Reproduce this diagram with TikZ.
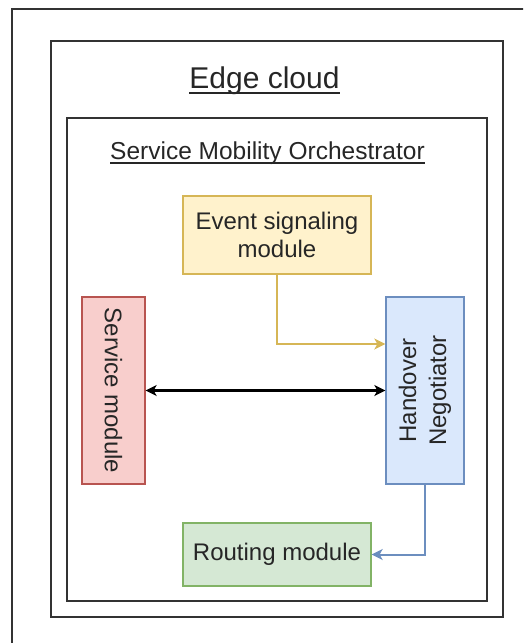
\documentclass[tikz,border=0pt]{standalone}
\usepackage{fontspec}
\setmainfont{Liberation Sans}
\usetikzlibrary{arrows.meta}

\definecolor{frameline}{HTML}{333333}
\definecolor{txt}{HTML}{262626}
\definecolor{yfill}{HTML}{FFF2CC}\definecolor{yline}{HTML}{D6B656}
\definecolor{rfill}{HTML}{F8CECC}\definecolor{rline}{HTML}{B85450}
\definecolor{bfill}{HTML}{DAE8FC}\definecolor{bline}{HTML}{6C8EBF}
\definecolor{gfill}{HTML}{D5E8D4}\definecolor{gline}{HTML}{82B366}

\tikzset{
  container/.style={draw=frameline, line width=1.8pt, inner sep=0pt},
  title/.style={text=txt, inner sep=0pt, anchor=base},
  module/.style={line width=1.3pt, inner sep=0pt, text=txt, align=center,
    font=\fontsize{24}{28}\selectfont},
  tip/.tip={Stealth[length=11pt,width=11pt,inset=3pt]},
  link/.style={line width=2pt, -tip},
}

\begin{document}
\begin{tikzpicture}[x=1pt,y=-1pt]
\useasboundingbox (0,0) rectangle (523,643);
\clip (0,0) rectangle (523,643);

% outer page frame, running off the right and bottom edges
\draw[frameline, line width=1.8pt] (12,680) -- (12,9) -- (560,9);

% nested containers
\node[container, minimum width=452pt, minimum height=576pt] (edge) at (277,329) {};
\node[container, minimum width=420pt, minimum height=483pt] (smo) at (277,359.5) {};

% underlined container titles
\node[title, font=\fontsize{30}{34}\selectfont] (edgetitle) at (264.5,88) {Edge cloud};
\draw[txt, line width=1.5pt] ([yshift=-5pt]edgetitle.base west) -- ([yshift=-5pt]edgetitle.base east);
\node[title, font=\fontsize{24.5}{28}\selectfont] (smotitle) at (267.5,159) {Service Mobility Orchestrator};
\draw[txt, line width=1.2pt] ([yshift=-4pt]smotitle.base west) -- ([yshift=-4pt]smotitle.base east);

% modules
\node[module, draw=yline, fill=yfill, minimum width=188pt, minimum height=78pt] (esm) at (277,235)
  {Event signaling\\module};
\node[module, draw=rline, fill=rfill, minimum width=63pt, minimum height=187pt] (sm) at (113.5,390.5) {};
\node[text=txt, font=\fontsize{24}{28}\selectfont, rotate=-90] at (sm.center) {Service module};
\node[module, draw=bline, fill=bfill, minimum width=78pt, minimum height=187pt] (hn) at (425,390.5) {};
\node[text=txt, align=center, font=\fontsize{24}{30}\selectfont, rotate=90] at (hn.center) {Handover\\Negotiator};
\node[module, draw=gline, fill=gfill, minimum width=188pt, minimum height=63pt] (rm) at (277,554.5)
  {Routing module};

% connectors
\draw[link, draw=yline] (esm.south) |- ([yshift=46.5pt]hn.west);
\draw[link, line width=2.4pt, tip-tip, draw=black] (sm.east) -- (hn.west);
\draw[link, draw=bline] (hn.south) |- (rm.east);
\end{tikzpicture}
\end{document}
